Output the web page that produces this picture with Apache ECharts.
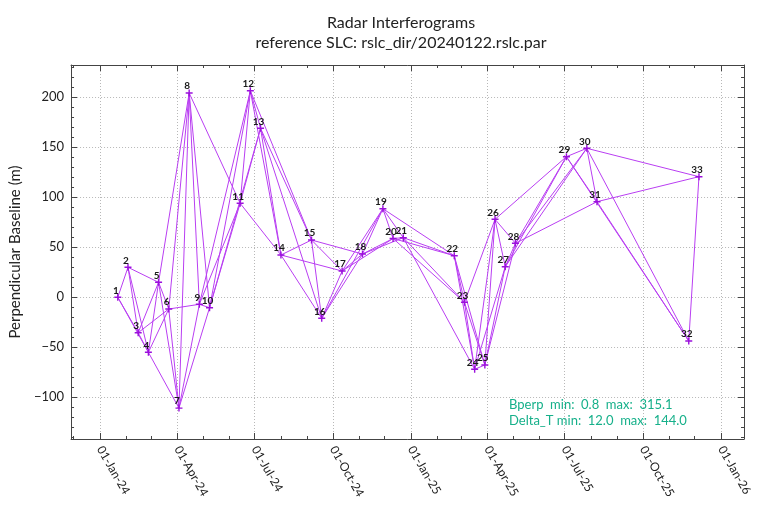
<!DOCTYPE html>
<html>
<head>
<meta charset="utf-8">
<script src="https://cdn.jsdelivr.net/npm/echarts@6/dist/echarts.min.js"></script>
<style>
  html, body { margin: 0; padding: 0; background: #fff; }
  #chart { width: 764px; height: 512px; }
</style>
</head>
<body>
<div id="chart"></div>
<script>
// acquisition dates (SLC numbers 1..33) and perpendicular baselines (m)
const slcDates = [
  "2024-01-22", "2024-02-03", "2024-02-15", "2024-02-27", "2024-03-10",
  "2024-03-22", "2024-04-03", "2024-04-15", "2024-04-27", "2024-05-09",
  "2024-06-14", "2024-06-26", "2024-07-08", "2024-08-01", "2024-09-06",
  "2024-09-18", "2024-10-12", "2024-11-05", "2024-11-29", "2024-12-11",
  "2024-12-23", "2025-02-21", "2025-03-05", "2025-03-17", "2025-03-29",
  "2025-04-10", "2025-04-22", "2025-05-04", "2025-07-03", "2025-07-27",
  "2025-08-08", "2025-11-24", "2025-12-06"
];
const bperp = [
  0, 30, -35.4, -55, 15,
  -11.7, -110.8, 204.3, -7, -10.4,
  94, 206.6, 169, 42.3, 57.3,
  -21, 26.3, 43.3, 88.6, 58.8,
  59.6, 41.6, -5, -72, -67.7,
  78, 30.6, 54, 140.6, 149,
  95.6, -43.7, 120.6
];
// interferogram pairs (SLC numbers)
const pairs = [
  [1, 2], [1, 3], [1, 4], [2, 3], [2, 4], [2, 5], [3, 4], [3, 5], [3, 6],
  [4, 5], [4, 6], [4, 7], [5, 6], [5, 7], [5, 8], [6, 7], [6, 8], [6, 9],
  [7, 8], [7, 9], [7, 10], [8, 9], [8, 10], [8, 11], [9, 10], [9, 11], [9, 12],
  [10, 11], [10, 12], [10, 13], [11, 12], [11, 13], [11, 14], [12, 13], [12, 14], [12, 15],
  [13, 14], [13, 15], [13, 16], [14, 15], [14, 16], [14, 17], [15, 16], [15, 17], [15, 18],
  [16, 17], [16, 18], [16, 19], [17, 18], [17, 19], [17, 20], [18, 19], [18, 20], [18, 21],
  [19, 20], [19, 21], [19, 22], [20, 21], [20, 22], [20, 23], [21, 22], [21, 23], [21, 24],
  [22, 23], [22, 24], [22, 25], [23, 24], [23, 25], [23, 26], [24, 25], [24, 26], [24, 27],
  [25, 26], [25, 27], [25, 28], [26, 27], [26, 28], [26, 29], [27, 28], [27, 29], [27, 30],
  [28, 29], [28, 30], [28, 31], [29, 30], [29, 31], [29, 32], [30, 31], [30, 32], [30, 33],
  [31, 32], [31, 33], [32, 33]
];
// x major ticks (quarter starts) and minor ticks (month starts)
const quarterTicks = [
  "2024-01-01", "2024-04-01", "2024-07-01", "2024-10-01", "2025-01-01",
  "2025-04-01", "2025-07-01", "2025-10-01", "2026-01-01"
];
const monthTicks = [
  "2023-12-01", "2024-02-01", "2024-03-01", "2024-05-01", "2024-06-01",
  "2024-08-01", "2024-09-01", "2024-11-01", "2024-12-01", "2025-02-01",
  "2025-03-01", "2025-05-01", "2025-06-01", "2025-08-01", "2025-09-01",
  "2025-11-01", "2025-12-01"
];
const statLines = [
  "Bperp  min:  0.8  max:  315.1",
  "Delta_T min:  12.0  max:  144.0"
];
const monthNames = ["Jan", "Feb", "Mar", "Apr", "May", "Jun",
  "Jul", "Aug", "Sep", "Oct", "Nov", "Dec"];

const toTime = (s) => {
  const [y, m, d] = s.split("-").map(Number);
  return Date.UTC(y, m - 1, d);
};
const xMin = Date.UTC(2023, 10, 28);
const xMax = Date.UTC(2026, 0, 28);
const yMin = -141.7;
const yMax = 232.3;

const lineColor = "#b93ef2";
const markColor = "#9b10dc";
const axisColor = "#444";
const gridLine = { show: true, lineStyle: { color: "#b8b8b8", type: [1, 2], width: 1 } };
const plusSymbol = "path://M4,0h2v4h4v2h-4v4h-2v-4h-4v-2h4z";

const nodes = slcDates.map((d, i) => ({
  name: String(i + 1),
  value: [toTime(d), bperp[i]],
}));
const links = pairs.map(([a, b]) => ({ source: String(a), target: String(b) }));

const dateAxis = (pos, ticks, len, withLine) => ({
  type: "value",
  position: pos,
  min: xMin,
  max: xMax,
  axisLine: { show: withLine, onZero: false, lineStyle: { color: axisColor, width: 1 } },
  axisTick: {
    show: true,
    inside: true,
    length: len,
    customValues: ticks.map(toTime),
    lineStyle: { color: axisColor },
  },
  axisLabel: { show: false },
  splitLine: { show: false },
});

const valueAxis = (pos) => ({
  type: "value",
  position: pos,
  min: yMin,
  max: yMax,
  splitNumber: 8,
  axisLine: { show: true, onZero: false, lineStyle: { color: axisColor, width: 1 } },
  axisTick: { show: true, inside: true, length: 6, lineStyle: { color: axisColor } },
  minorTick: { show: true, splitNumber: 5, length: 3, lineStyle: { color: axisColor } },
  axisLabel: { show: false },
  splitLine: { show: false },
});

const chart = echarts.init(document.getElementById("chart"));
chart.setOption({
  animation: false,
  textStyle: { fontFamily: "Lato" },
  title: {
    text: "Radar Interferograms\nreference SLC: rslc_dir/20240122.rslc.par",
    left: 396,
    top: 8,
    textAlign: "center",
    textStyle: {
      fontSize: 16,
      fontWeight: "normal",
      fontFamily: "Lato",
      color: "#222",
      lineHeight: 20,
    },
  },
  grid: { left: 70, right: 20, top: 65, bottom: 73 },
  xAxis: [
    {
      ...dateAxis("bottom", quarterTicks, 6, true),
      axisLabel: {
        show: true,
        rotate: -60,
        color: "#222",
        fontSize: 12,
        margin: 8,
        customValues: quarterTicks.map(toTime),
        formatter: (value) => {
          const d = new Date(value);
          const yy = String(d.getUTCFullYear()).slice(2);
          return `01-${monthNames[d.getUTCMonth()]}-${yy}`;
        },
      },
      splitLine: gridLine,
    },
    dateAxis("bottom", monthTicks, 3, false),
    dateAxis("top", quarterTicks, 6, true),
    dateAxis("top", monthTicks, 3, false),
  ],
  yAxis: [
    {
      ...valueAxis("left"),
      name: "Perpendicular Baseline (m)",
      nameLocation: "middle",
      nameGap: 43,
      nameTextStyle: { fontSize: 15, color: "#222", fontFamily: "Lato" },
      axisLabel: {
        show: true,
        color: "#222",
        fontSize: 13,
        margin: 7,
        showMinLabel: false,
        showMaxLabel: false,
        formatter: (v) => (v < 0 ? "\u2212" + Math.abs(v) : String(v)),
      },
      splitLine: gridLine,
    },
    valueAxis("right"),
  ],
  graphic: statLines.map((t, i) => ({
    type: "text",
    x: 509,
    y: 405 + i * 16,
    silent: true,
    style: {
      text: t,
      fill: "#16b08a",
      font: "13px Lato",
      verticalAlign: "middle",
    },
  })),
  series: [
    {
      type: "graph",
      layout: "none",
      coordinateSystem: "cartesian2d",
      xAxisIndex: 0,
      yAxisIndex: 0,
      silent: true,
      data: nodes,
      links: links,
      symbol: plusSymbol,
      symbolSize: 7,
      itemStyle: { color: markColor },
      lineStyle: { color: lineColor, width: 1, opacity: 1, curveness: 0 },
      label: {
        show: true,
        position: "inside",
        offset: [-2, -7],
        formatter: "{b}",
        fontSize: 10,
        fontFamily: "Lato",
        fontWeight: "bold",
        color: "#1a1a1a",
      },
    },
  ],
});
</script>
</body>
</html>
